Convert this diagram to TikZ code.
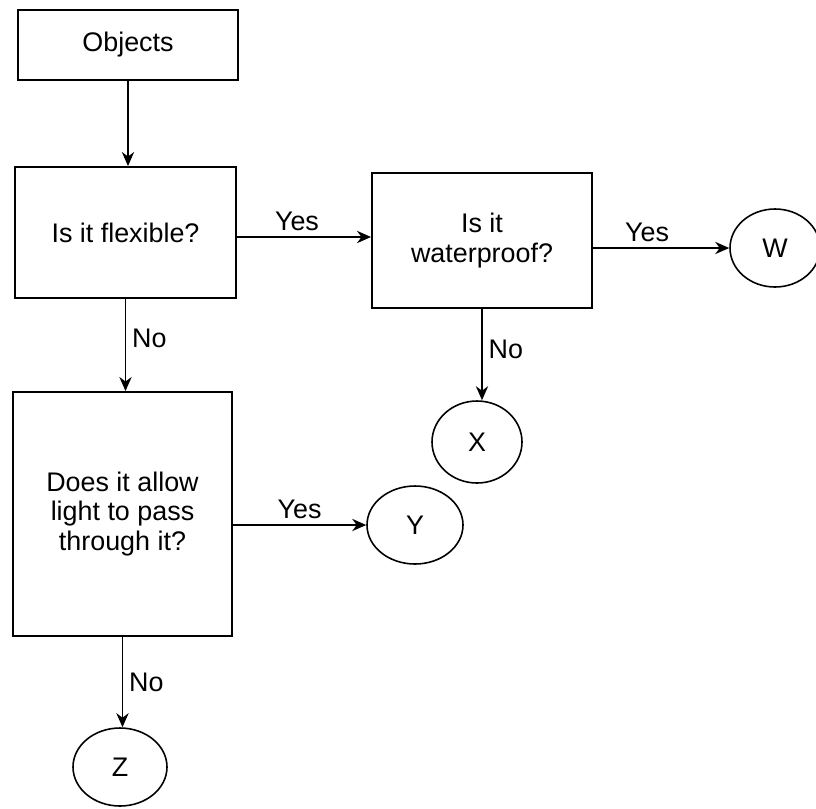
\documentclass[tikz,border=0pt]{standalone}
\usepackage{fontspec}
\setmainfont{Liberation Sans}
\usetikzlibrary{shapes.geometric,arrows.meta}

\begin{document}
\begin{tikzpicture}[
        box/.style={draw, line width=1.1pt, align=center, inner sep=2pt,
            font=\fontsize{15.3}{17}\selectfont},
        leaf/.style={draw, ellipse, line width=0.9pt, inner sep=0pt,
            font=\fontsize{15.3}{17}\selectfont},
        arr/.style={line width=0.9pt, -{Stealth[length=8pt,width=7pt]}},
        lab/.style={font=\fontsize{15.3}{17}\selectfont}
    ]
        \useasboundingbox (0,0) rectangle (16.32,-16.16);
        \node[box, minimum width=4.4cm, minimum height=1.4cm] (objects) at (2.56,-0.9) {Objects};
        \node[box, minimum width=4.42cm, minimum height=2.62cm] (flexible) at (2.51,-4.65) {Is it flexible?};
        \node[box, minimum width=4.4cm, minimum height=2.7cm] (waterproof) at (9.64,-4.81) {Is it\\waterproof?};
        \node[box, minimum width=4.38cm, minimum height=4.88cm] (light) at (2.45,-10.28) {Does it allow\\light to pass\\through it?};
        \node[leaf, minimum width=1.8cm, minimum height=1.56cm] (W) at (15.5,-4.96) {W};
        \node[leaf, minimum width=1.8cm, minimum height=1.64cm] (X) at (9.54,-8.84) {X};
        \node[leaf, minimum width=1.92cm, minimum height=1.56cm] (Y) at (8.3,-10.5) {Y};
        \node[leaf, minimum width=1.88cm, minimum height=1.56cm] (Z) at (2.4,-15.34) {Z};
        \coordinate (yes1) at ([yshift=-0.09cm]flexible.east);
        \draw[arr] (objects.south) -- (objects.south |- flexible.north);
        \draw[arr] (yes1) -- (yes1 -| waterproof.west) node[lab, midway, above, xshift=-4pt] {Yes};
        \draw[arr] (W.west -| waterproof.east) -- (W.west) node[lab, midway, above, xshift=-8pt] {Yes};
        \draw[arr] (waterproof.south) -- (waterproof.south |- X.north) node[lab, midway, right, yshift=3pt] {No};
        \draw[arr] (flexible.south) -- (flexible.south |- light.north) node[lab, midway, right, yshift=4pt] {No};
        \draw[arr] (Y.west -| light.east) -- (Y.west) node[lab, midway, above] {Yes};
        \draw[arr] (light.south) -- (light.south |- Z.north) node[lab, midway, right] {No};
    \end{tikzpicture}
\end{document}
